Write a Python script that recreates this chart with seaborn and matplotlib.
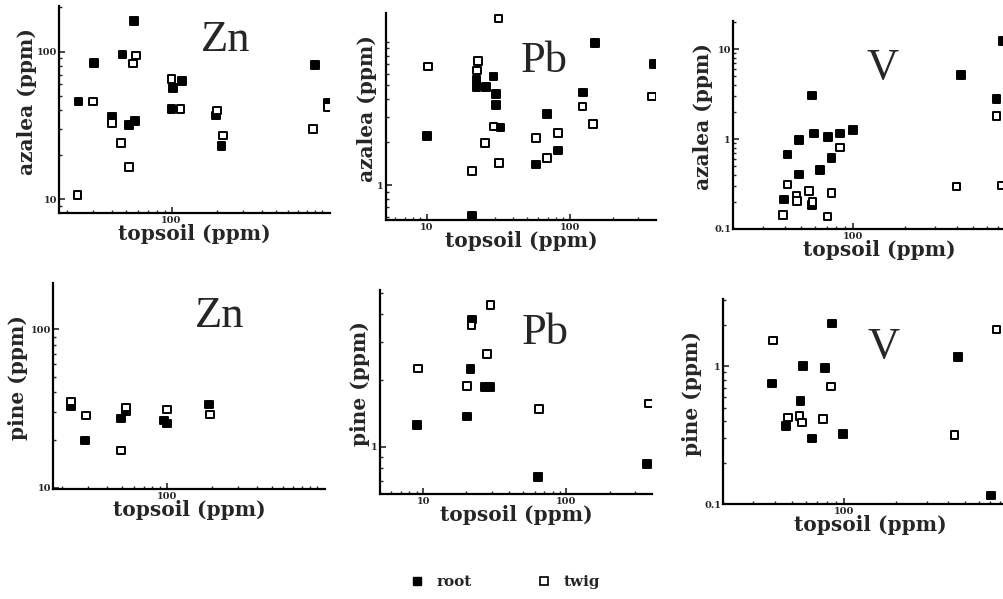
import numpy as np
import pandas as pd
import matplotlib
matplotlib.use("Agg")
import matplotlib.pyplot as plt
from matplotlib.lines import Line2D
from matplotlib import ticker
import seaborn as sns

# values (ppm)
ZN_AZ_ROOT_X = [24, 30.5, 40, 47, 52, 56, 57, 102, 117, 100, 197, 215, 903, 1096]
ZN_AZ_ROOT_Y = [46, 84, 36, 96, 32, 162, 34, 57, 63, 41, 37, 23, 81, 45]
ZN_AZ_TWIG_X = [23.6, 30, 40, 46, 52, 55.5, 58, 100, 115, 200, 221, 879, 1096]
ZN_AZ_TWIG_Y = [10.7, 46, 33, 24, 16.5, 83, 94, 65, 41, 40, 27, 30, 42]

PB_AZ_ROOT_X = [10, 20.8, 22.3, 22.3, 25.9, 29.2, 30.3, 30.3, 32.8, 57.7, 69.4, 82.4, 123, 150, 386]
PB_AZ_ROOT_Y = [2.21, 0.607, 5.43, 4.82, 4.82, 5.72, 4.33, 3.63, 2.53, 1.39, 3.12, 1.74, 4.42, 9.8, 6.98]
PB_AZ_TWIG_X = [10.2, 20.7, 22.7, 22.5, 25.5, 29.2, 31.9, 31.6, 57.9, 68.8, 82.8, 122, 145, 375]
PB_AZ_TWIG_Y = [6.72, 1.25, 7.36, 6.3, 1.96, 2.56, 1.42, 14.6, 2.13, 1.55, 2.3, 3.53, 2.67, 4.14]

V_AZ_ROOT_X = [39.5, 41.6, 48.5, 48.5, 57.8, 59.1, 57.8, 64, 71.6, 74.9, 83.7, 100, 423, 682, 745]
V_AZ_ROOT_Y = [0.213, 0.672, 0.976, 0.404, 3.05, 1.155, 0.184, 0.452, 1.06, 0.613, 1.155, 1.256, 5.2, 2.81, 12.3]
V_AZ_TWIG_X = [39.2, 41.4, 46.9, 47.2, 55.3, 58.1, 74.9, 71, 83.7, 399, 682, 729]
V_AZ_TWIG_Y = [0.143, 0.314, 0.237, 0.206, 0.263, 0.201, 0.252, 0.138, 0.81, 0.298, 1.81, 0.306]

ZN_PINE_ROOT_X = [23, 28.5, 49.6, 53.5, 96, 100, 191]
ZN_PINE_ROOT_Y = [32.6, 19.8, 27.3, 30.3, 26.5, 25.4, 33.4]
ZN_PINE_TWIG_X = [23, 28.8, 49.6, 53.5, 100, 194]
ZN_PINE_TWIG_Y = [35, 28.6, 17.2, 32.1, 31.1, 28.9]

PB_PINE_ROOT_X = [9.1, 20.3, 21.4, 22, 27, 29.2, 63.5, 366]
PB_PINE_ROOT_Y = [1.255, 1.37, 2.25, 3.79, 1.87, 1.87, 0.73, 0.834]
PB_PINE_TWIG_X = [9.2, 20.3, 21.8, 28, 29.5, 64.5, 376]
PB_PINE_TWIG_Y = [2.27, 1.89, 3.55, 2.63, 4.41, 1.48, 1.57]

V_PINE_ROOT_X = [38.3, 46.4, 56, 58, 65.4, 77.6, 85.5, 99, 456, 706]
V_PINE_ROOT_Y = [0.746, 0.368, 0.558, 1.0, 0.299, 0.974, 2.04, 0.321, 1.16, 0.115]
V_PINE_TWIG_X = [38.8, 47.5, 55.3, 57.2, 75.5, 84, 436, 762]
V_PINE_TWIG_Y = [1.53, 0.424, 0.435, 0.39, 0.412, 0.71, 0.317, 1.84]

ELEMENTS = ["Zn", "Pb", "V", "Zn", "Pb", "V"]
PLANTS = ["azalea", "azalea", "azalea", "pine", "pine", "pine"]
X_TICKS = [[100], [10, 100], [100], [100], [10, 100], [100]]
Y_TICKS = [[10, 100], [1], [0.1, 1, 10], [10, 100], [1], [0.1, 1]]

W, H = 1004, 599

# layout in pixels: axes box (left, top, right, bottom), limits, element label centre, ylabel gap
LAYOUT = [
    dict(box=(59, 6, 330, 213), xlim=(17.8, 1136), ylim=(8.07, 204), txt=(226, 40), gap=22),
    dict(box=(386, 13, 656, 220), xlim=(5.2, 398), ylim=(0.57, 15.9), txt=(544, 61), gap=9),
    dict(box=(733, 21, 1025, 229), xlim=(20, 1000), ylim=(0.1, 20.6), txt=(883, 68), gap=20),
    dict(box=(53, 283, 325, 489), xlim=(17.4, 1136), ylim=(9.8, 196), txt=(220, 316), gap=25),
    dict(box=(380, 290, 652, 494), xlim=(5.0, 395), ylim=(0.61, 5.15), txt=(545, 333), gap=10),
    dict(box=(723, 299, 1017, 504), xlim=(20, 1000), ylim=(0.1, 3.07), txt=(884, 347), gap=21),
]

panels = [
    (ZN_AZ_ROOT_X, ZN_AZ_ROOT_Y, ZN_AZ_TWIG_X, ZN_AZ_TWIG_Y),
    (PB_AZ_ROOT_X, PB_AZ_ROOT_Y, PB_AZ_TWIG_X, PB_AZ_TWIG_Y),
    (V_AZ_ROOT_X, V_AZ_ROOT_Y, V_AZ_TWIG_X, V_AZ_TWIG_Y),
    (ZN_PINE_ROOT_X, ZN_PINE_ROOT_Y, ZN_PINE_TWIG_X, ZN_PINE_TWIG_Y),
    (PB_PINE_ROOT_X, PB_PINE_ROOT_Y, PB_PINE_TWIG_X, PB_PINE_TWIG_Y),
    (V_PINE_ROOT_X, V_PINE_ROOT_Y, V_PINE_TWIG_X, V_PINE_TWIG_Y),
]

sns.set_style("ticks")
plt.rcParams['font.family'] = ['DejaVu Serif']

fig = plt.figure(figsize=(W / 100, H / 100), dpi=100)
palette = {"root": "black", "twig": "white"}

for i, (rx, ry, tx, ty) in enumerate(panels):
    lay = LAYOUT[i]
    l, t, r, b = lay["box"]
    ax = fig.add_axes([l / W, 1 - b / H, (r - l) / W, (b - t) / H])

    df = pd.concat([
        pd.DataFrame({"topsoil": rx, "plant": ry, "part": "root"}),
        pd.DataFrame({"topsoil": tx, "plant": ty, "part": "twig"}),
    ], ignore_index=True)

    sns.scatterplot(data=df, x="topsoil", y="plant", hue="part", palette=palette,
                    marker="s", s=30, edgecolor="black", linewidth=1.4,
                    legend=False, ax=ax, zorder=3)

    ax.set_xscale("log")
    ax.set_yscale("log")
    ax.set_xlim(*lay["xlim"])
    ax.set_ylim(*lay["ylim"])

    for axis, vals in ((ax.xaxis, X_TICKS[i]), (ax.yaxis, Y_TICKS[i])):
        axis.set_major_locator(ticker.FixedLocator(vals))
        axis.set_major_formatter(ticker.FuncFormatter(lambda v, p: f"{v:g}"))
        axis.set_minor_locator(ticker.LogLocator(base=10, subs=np.arange(1, 10), numticks=50))
        axis.set_minor_formatter(ticker.NullFormatter())

    ax.tick_params(which="major", direction="in", length=4, width=1.2, labelsize=7, pad=2)
    ax.tick_params(axis="y", which="major", pad=1.5)
    ax.tick_params(which="minor", direction="in", length=2.5, width=1.0)
    for lab in ax.get_xticklabels() + ax.get_yticklabels():
        lab.set_fontweight("bold")

    sns.despine(ax=ax)
    for side in ("left", "bottom"):
        ax.spines[side].set_linewidth(1.6)
        ax.spines[side].set_color("black")

    ax.set_xlabel("topsoil (ppm)", fontsize=14.5, fontweight="bold")
    ax.set_ylabel(f"{PLANTS[i]} (ppm)", fontsize=14.5, fontweight="bold")
    ax.xaxis.set_label_coords(0.5, -11 / (b - t))
    ax.yaxis.set_label_coords(-lay["gap"] / (r - l), 0.54)

    cx, cy = lay["txt"]
    fig.text(cx / W, 1 - cy / H, ELEMENTS[i], fontsize=32, family="Liberation Serif",
             ha="center", va="center")

handles = [
    Line2D([], [], marker="s", linestyle="", markersize=6, markerfacecolor="black",
           markeredgecolor="black"),
    Line2D([], [], marker="s", linestyle="", markersize=6, markerfacecolor="white",
           markeredgecolor="black", markeredgewidth=1.2),
]
leg = fig.legend(handles, ["root", "twig"], loc="center", bbox_to_anchor=(505 / W, 1 - 582 / H),
                 ncol=2, frameon=False, handlelength=1.0, handletextpad=0.8,
                 columnspacing=4.2, prop={"size": 11, "weight": "bold", "family": "DejaVu Serif"})

fig.savefig("out.png", dpi=100, facecolor="white")
